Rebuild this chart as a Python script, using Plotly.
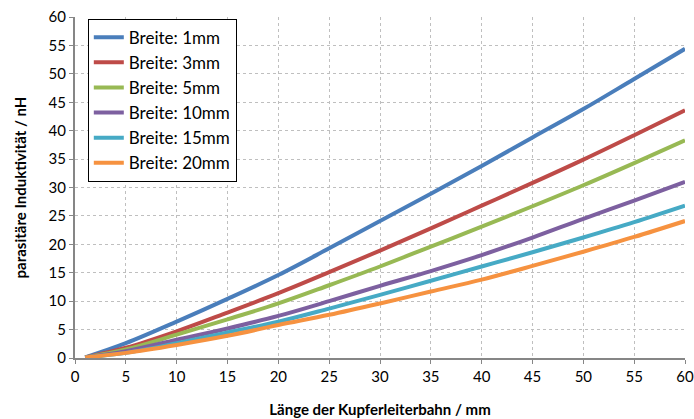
import plotly.graph_objects as go

laenge = [1, 5, 10, 15, 20, 25, 30, 35, 40, 45, 50, 55, 60]

breite_1mm = [0.1, 2.6, 6.4, 10.4, 14.6, 19.3, 24.1, 28.9, 33.8, 38.8, 43.8, 49.1, 54.4]
breite_3mm = [0.1, 1.8, 4.7, 8.0, 11.4, 15.1, 18.9, 22.8, 26.8, 30.8, 34.9, 39.2, 43.6]
breite_5mm = [0.1, 1.5, 4.1, 6.8, 9.6, 12.8, 16.1, 19.6, 23.1, 26.7, 30.4, 34.3, 38.3]
breite_10mm = [0.1, 1.2, 3.2, 5.2, 7.4, 10.0, 12.7, 15.3, 18.1, 21.2, 24.5, 27.7, 31.0]
breite_15mm = [0.1, 0.9, 2.6, 4.5, 6.4, 8.7, 11.1, 13.6, 16.1, 18.6, 21.2, 23.9, 26.8]
breite_20mm = [0.1, 0.9, 2.3, 3.9, 5.8, 7.6, 9.6, 11.7, 13.8, 16.2, 18.7, 21.3, 24.1]

series = [
    ("Breite: 1mm", breite_1mm, "#4A7EBB"),
    ("Breite: 3mm", breite_3mm, "#BE4B48"),
    ("Breite: 5mm", breite_5mm, "#98B954"),
    ("Breite: 10mm", breite_10mm, "#7D60A0"),
    ("Breite: 15mm", breite_15mm, "#46AAC5"),
    ("Breite: 20mm", breite_20mm, "#F69240"),
]

fig = go.Figure()
for name, values, color in series:
    fig.add_trace(go.Scatter(
        x=laenge, y=values, name=name, mode="lines",
        line=dict(color=color, width=4, shape="spline"),
    ))

font = "Lato, Open Sans, sans-serif"
fig.update_layout(
    width=694, height=419,
    margin=dict(l=75, r=9, t=17, b=61),
    plot_bgcolor="white", paper_bgcolor="white",
    font=dict(family=font, size=15, color="black"),
    showlegend=True,
    legend=dict(
        x=0.021, y=0.995, xanchor="left", yanchor="top",
        bgcolor="white", bordercolor="black", borderwidth=1,
        font=dict(size=17), tracegroupgap=0, itemwidth=30,
        entrywidth=185, entrywidthmode="pixels",
    ),
)
fig.update_xaxes(
    range=[0, 60], tick0=0, dtick=5,
    showgrid=True, gridcolor="#BFBFBF", griddash="dot", gridwidth=1,
    showline=True, linecolor="#868686", linewidth=2,
    ticks="outside", ticklen=4, tickcolor="#868686",
    zeroline=False, automargin=False, ticklabeloverflow="allow",
    title=dict(text="<b>Länge der Kupferleiterbahn / mm</b>", font=dict(size=15), standoff=20),
)
fig.update_yaxes(
    range=[0, 60], tick0=0, dtick=5,
    showgrid=True, gridcolor="#BFBFBF", griddash="dot", gridwidth=1,
    showline=True, linecolor="#868686", linewidth=2,
    ticks="outside", ticklen=4, tickcolor="#868686",
    zeroline=False, automargin=False, ticklabeloverflow="allow",
    title=dict(text="<b>parasitäre Induktivität / nH</b>", font=dict(size=15), standoff=18),
)

# drop the default page margin so the figure fills the window exactly
fig.write_html(
    "out.html",
    config={"displayModeBar": False},
    post_script="document.body.style.margin = '0';",
)
